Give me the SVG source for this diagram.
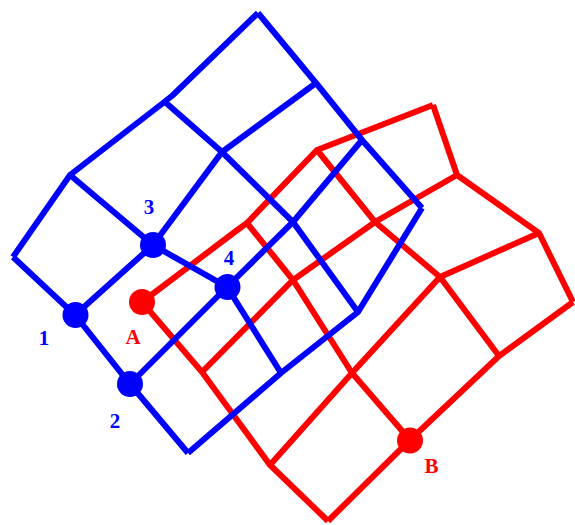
<svg xmlns="http://www.w3.org/2000/svg" width="575" height="525" viewBox="0 0 575 525">
<style>
.b{fill:none;stroke:#0000ff;stroke-width:6;stroke-linejoin:miter}
.r{fill:none;stroke:#ff0000;stroke-width:6;stroke-linejoin:miter}
.bd{fill:#0000ff}
.rd{fill:#ff0000}
.lb{font-family:"Liberation Serif","Times New Roman",serif;font-weight:bold;font-size:21px;text-anchor:middle;fill:#0000ff}
.lr{font-family:"Liberation Serif","Times New Roman",serif;font-weight:bold;font-size:21px;text-anchor:middle;fill:#ff0000}
</style>
<rect width="575" height="525" fill="#ffffff"/>
<g id="connectors">
<g id="red-grid">
<polyline class="r" points="142,302 202,372 270,465 328,521"/>
<polyline class="r" points="247,223 293,280 352,373 410,440"/>
<polyline class="r" points="317,150 375,222 440,277 499,356"/>
<polyline class="r" points="433,105 457,175 539,233 573,302"/>
<polyline class="r" points="142,302 236,231 247,223 317,150 433,105"/>
<polyline class="r" points="202,372 293,280 375,222 457,175"/>
<polyline class="r" points="270,465 352,373 440,277 539,233"/>
<polyline class="r" points="328,521 410,440 499,356 573,302"/>
</g>
<g id="blue-grid">
<polyline class="b" points="13,257 75,315 130,384 188,453"/>
<polyline class="b" points="70,175 153,245 227,287 281,373"/>
<polyline class="b" points="165,102 222,152 293,222 358,312"/>
<polyline class="b" points="258,13 316,83 362,140 422,208"/>
<polyline class="b" points="13,257 70,175 163,103 173,95 258,13"/>
<polyline class="b" points="75,315 153,245 222,152 316,83"/>
<polyline class="b" points="130,384 227,287 293,222 362,140"/>
<polyline class="b" points="188,453 281,373 358,312 422,208"/>
</g>
</g>
<g id="node-1"><circle class="bd" cx="75.5" cy="315" r="13"/><text class="lb" x="44" y="345">1</text></g>
<g id="node-2"><circle class="bd" cx="130" cy="384" r="13"/><text class="lb" x="115" y="428">2</text></g>
<g id="node-3"><circle class="bd" cx="153" cy="245" r="13"/><text class="lb" x="149" y="214">3</text></g>
<g id="node-4"><circle class="bd" cx="227.5" cy="287" r="13"/><text class="lb" x="229" y="265">4</text></g>
<g id="node-A"><circle class="rd" cx="142" cy="302" r="13"/><text class="lr" x="133" y="344">A</text></g>
<g id="node-B"><circle class="rd" cx="410" cy="440.5" r="13"/><text class="lr" x="431.5" y="473">B</text></g>
</svg>
